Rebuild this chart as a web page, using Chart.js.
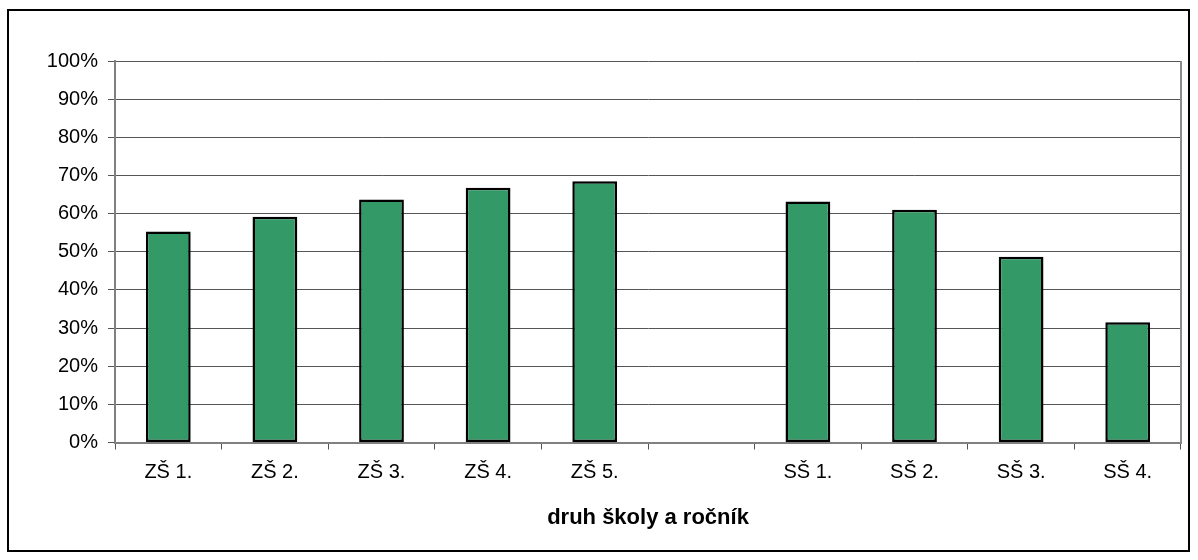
<!DOCTYPE html>
<html lang="cs">

<head>
    <meta charset="UTF-8">
    <title>druh školy a ročník</title>
    <script src="https://cdn.jsdelivr.net/npm/chart.js"></script>
    <style>
        body { margin: 0; background: #fff; }
        #box {
            position: absolute; left: 7px; top: 9px;
            width: 1179px; height: 539px;
            border: 2px solid #000;
        }
    </style>
</head>

<body>
    <div id="box"><canvas id="chart"></canvas></div>

    <script>
        // data
        const labels = ["ZŠ 1.", "ZŠ 2.", "ZŠ 3.", "ZŠ 4.", "ZŠ 5.", "", "SŠ 1.", "SŠ 2.", "SŠ 3.", "SŠ 4."];
        const values = [55.3, 59.2, 63.7, 66.8, 68.5, null, 63.2, 61.0, 48.7, 31.5];
        const yTicks = [0, 10, 20, 30, 40, 50, 60, 70, 80, 90, 100];
        const xTitle = "druh školy a ročník";

        // right edge of the plot area
        const rightEdge = {
            id: "rightEdge",
            afterDraw(chart) {
                const a = chart.chartArea, c = chart.ctx;
                c.save();
                c.strokeStyle = "#8c8c8c";
                c.lineWidth = 2;
                c.beginPath();
                c.moveTo(a.right, a.top);
                c.lineTo(a.right, a.bottom);
                c.stroke();
                c.restore();
            }
        };

        new Chart(document.getElementById("chart"), {
            type: "bar",
            data: {
                labels: labels,
                datasets: [{
                    data: values,
                    backgroundColor: "#339966",
                    borderColor: "#000",
                    borderWidth: 2.5,
                    borderSkipped: false,
                    barPercentage: 0.42,
                    categoryPercentage: 1
                }]
            },
            plugins: [rightEdge],
            options: {
                responsive: true,
                maintainAspectRatio: false,
                animation: false,
                layout: { padding: { left: 0, right: 7, top: 50, bottom: 0 } },
                plugins: { legend: { display: false }, tooltip: { enabled: false } },
                scales: {
                    x: {
                        afterFit: (s) => { s.height = 107.5; },
                        grid: { offset: true, drawOnChartArea: false, drawTicks: true, tickLength: 7, color: "#555" },
                        border: { color: "#808080", width: 2 },
                        ticks: { color: "#000", padding: 11, font: { family: "Liberation Sans", size: 20 }, maxRotation: 0 },
                        title: {
                            display: true,
                            text: xTitle,
                            color: "#000",
                            font: { family: "Liberation Sans", size: 22, weight: "bold" },
                            padding: { top: 0, bottom: 19 }
                        }
                    },
                    y: {
                        min: 0,
                        max: 100,
                        afterFit: (s) => { s.width = 106; },
                        afterBuildTicks: (s) => { s.ticks = yTicks.map(v => ({ value: v })); },
                        grid: { color: "#555", tickLength: 7, lineWidth: 1 },
                        border: { color: "#808080", width: 2 },
                        ticks: {
                            color: "#000",
                            padding: 10,
                            font: { family: "Liberation Sans", size: 20 },
                            callback: (v) => v + "%"
                        }
                    }
                }
            }
        });
    </script>
</body>

</html>
